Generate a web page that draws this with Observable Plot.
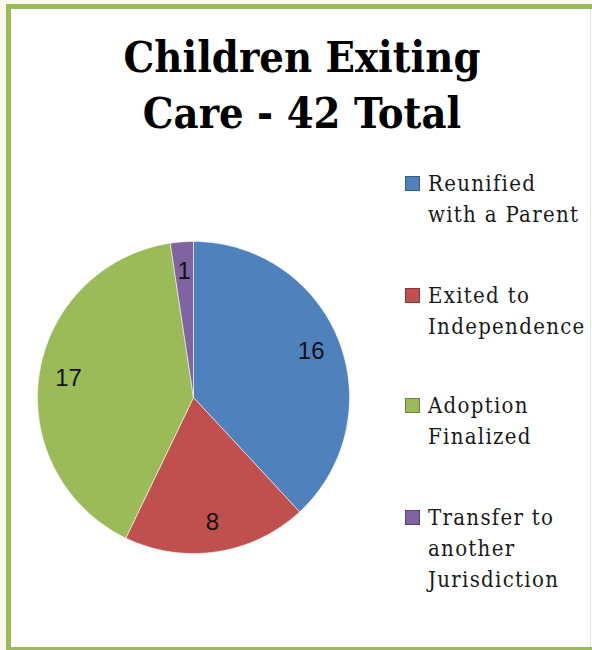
<!DOCTYPE html>
<html>
<head>
<meta charset="utf-8">
<script src="https://cdn.jsdelivr.net/npm/d3@7"></script>
<script src="https://cdn.jsdelivr.net/npm/@observablehq/plot@0.6"></script>
<style>
  html, body { margin: 0; padding: 0; background: #fcfaf0; }
  #wrap { position: relative; width: 592px; height: 650px; overflow: hidden; background: #fcfaf0; }
  #frame { position: absolute; left: 6px; top: 4px; width: 600px; height: 647px; border: 5px solid #9bbb59; border-bottom-width: 4px; background: #fff; box-sizing: border-box; }
  #rline { position: absolute; left: 590px; top: 9px; width: 1px; height: 638px; background: #e4ecd2; }
  #title { position: absolute; left: 0; top: 29px; width: 604px; text-align: center; font-family: "DejaVu Serif Condensed", "DejaVu Serif", serif; font-stretch: condensed; font-weight: bold; font-size: 43px; line-height: 56px; color: #000; }
  #plot { position: absolute; left: 0; top: 0; }
  .leg { position: absolute; left: 405px; font-family: "DejaVu Serif Condensed", "DejaVu Serif", serif; font-stretch: condensed; font-size: 22px; line-height: 31px; color: #1a1a1a; letter-spacing: 1.3px; }
  .leg .sw { position: absolute; left: 0; top: 8px; width: 15px; height: 15px; box-sizing: border-box; border: 1px solid rgba(0,0,0,0.3); }
  .leg .tx { margin-left: 23px; white-space: nowrap; }
</style>
</head>
<body>
<div id="wrap">
  <div id="frame"></div>
  <div id="rline"></div>
  <div id="plot"></div>
  <div id="title">Children Exiting<br>Care - 42 Total</div>
  <div id="legend"></div>
</div>
<script>
const categories = ["Reunified with a Parent", "Exited to Independence", "Adoption Finalized", "Transfer to another Jurisdiction"];
const legendLines = [["Reunified", "with a Parent"], ["Exited to", "Independence"], ["Adoption", "Finalized"], ["Transfer to", "another", "Jurisdiction"]];
const values = [16, 8, 17, 1];
const colors = ["#4f81bd", "#c0504d", "#9bbb59", "#8064a2"];

const data = categories.map((c, i) => ({cat: c, value: values[i]}));
const arcs = d3.pie().sort(null).value(d => d.value)(data);

// polygon outline for each slice (center -> arc -> center)
const outline = [];
for (const a of arcs) {
  const n = Math.max(4, Math.ceil((a.endAngle - a.startAngle) / 0.01));
  outline.push({cat: a.data.cat, x: 0, y: 0});
  for (let k = 0; k <= n; k++) {
    const t = a.startAngle + (a.endAngle - a.startAngle) * k / n;
    outline.push({cat: a.data.cat, x: Math.sin(t), y: Math.cos(t)});
  }
  outline.push({cat: a.data.cat, x: 0, y: 0});
}
const labels = arcs.map(a => {
  const m = (a.startAngle + a.endAngle) / 2;
  return {cat: a.data.cat, value: a.data.value, x: 0.81 * Math.sin(m), y: 0.81 * Math.cos(m)};
});

const chart = Plot.plot({
  width: 592,
  height: 650,
  style: {background: "transparent", overflow: "visible"},
  x: {domain: [-1, 1], range: [37, 349], axis: null},
  y: {domain: [-1, 1], range: [553, 241], axis: null},
  color: {domain: categories, range: colors},
  marks: [
    Plot.line(outline, {x: "x", y: "y", z: "cat", fill: "cat", stroke: "#ffffff", strokeOpacity: 0.55, strokeWidth: 1}),
    Plot.text(labels, {x: "x", y: "y", text: d => String(d.value), fontSize: 24, fontFamily: "Liberation Sans, Arial, sans-serif", fill: "#111"})
  ]
});
document.getElementById("plot").appendChild(chart);

const firstBaselines = [191, 303, 413, 525];
const leg = document.getElementById("legend");
legendLines.forEach((lines, i) => {
  const el = document.createElement("div");
  el.className = "leg";
  el.style.top = (firstBaselines[i] - 23) + "px";
  const sw = document.createElement("div");
  sw.className = "sw";
  sw.style.background = colors[i];
  el.appendChild(sw);
  const tx = document.createElement("div");
  tx.className = "tx";
  tx.innerHTML = lines.join("<br>");
  el.appendChild(tx);
  leg.appendChild(el);
});
</script>
</body>
</html>
